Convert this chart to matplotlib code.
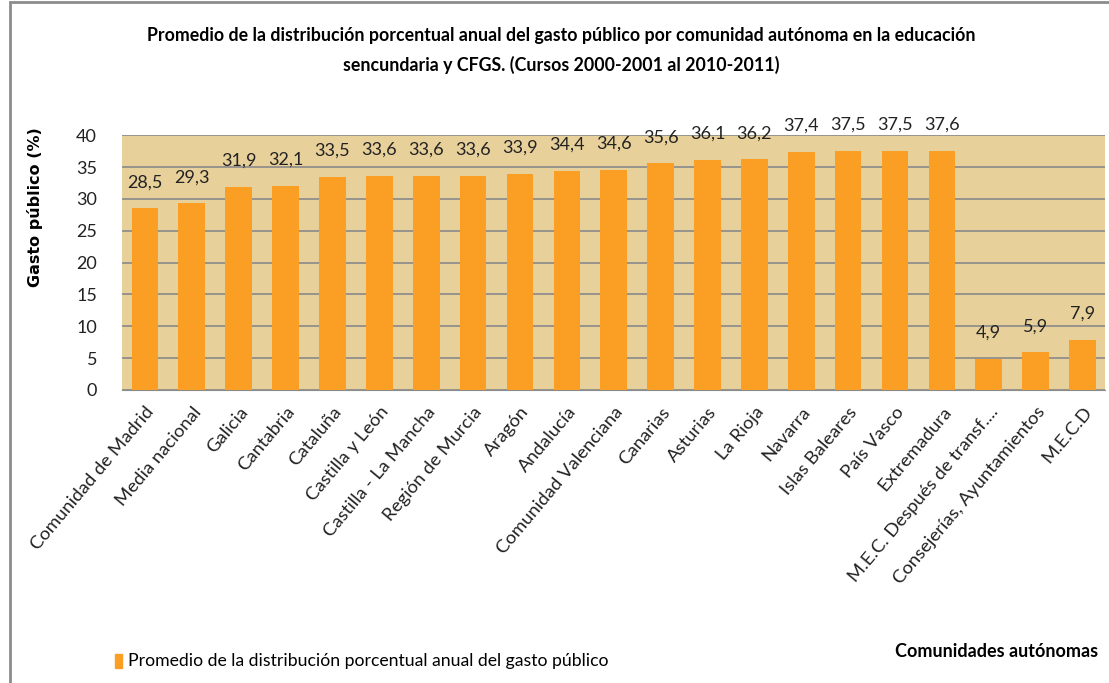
import numpy as np
import matplotlib.pyplot as plt
from matplotlib.patches import Rectangle

plt.rcParams['font.family'] = ['Lato', 'DejaVu Sans']

regiones = ['Comunidad de Madrid', 'Media nacional', 'Galicia', 'Cantabria', 'Cataluña',
            'Castilla y León', 'Castilla - La Mancha', 'Región de Murcia', 'Aragón', 'Andalucía',
            'Comunidad Valenciana', 'Canarias', 'Asturias', 'La Rioja', 'Navarra',
            'Islas Baleares', 'País Vasco', 'Extremadura', 'M.E.C. Después de transf....',
            'Consejerías, Ayuntamientos', 'M.E.C.D']
valores = [28.5, 29.3, 31.9, 32.1, 33.5, 33.6, 33.6, 33.6, 33.9, 34.4, 34.6,
           35.6, 36.1, 36.2, 37.4, 37.5, 37.5, 37.6, 4.9, 5.9, 7.9]
yticks = [0, 5, 10, 15, 20, 25, 30, 35, 40]

fig = plt.figure(figsize=(11.09, 6.83), dpi=100)
ax = fig.add_axes([0.110, 0.429, 0.886, 0.373])

# frame of the chart area
fig.patches.append(Rectangle((0.009, -0.05), 1.2, 1.047, transform=fig.transFigure,
                             fill=False, edgecolor='#8c8c8c', linewidth=2))

ax.set_facecolor('#e8d09b')
x = np.arange(len(regiones))
ax.bar(x, valores, width=0.57, color='#fa9f24', zorder=3)
for xi, v in zip(x, valores):
    ax.annotate(f'{v:.1f}'.replace('.', ','), (xi, v), xytext=(0, 13), textcoords='offset points',
                ha='center', va='bottom', fontsize=13, color='#222222')

ax.set_ylim(0, 40)
ax.set_xlim(-0.49, len(regiones) - 0.53)
ax.set_yticks(yticks)
ax.yaxis.grid(True, color='#8a8a8a', linewidth=1.2, zorder=1)
for s in ['left', 'right', 'top']:
    ax.spines[s].set_visible(False)
ax.spines['bottom'].set_color('#8a8a8a')
ax.tick_params(axis='both', length=0, labelsize=13, colors='#222222')
ax.tick_params(axis='y', pad=18)
ax.set_xticks(x)
ax.set_xticklabels(regiones, rotation=50, ha='right', rotation_mode='anchor', fontsize=13.3)
ax.tick_params(axis='x', pad=10)

fig.text(0.032, 0.697, 'Gasto público (%)', rotation=90, ha='center', va='center',
         fontsize=11.5, fontweight='bold', family='DejaVu Sans')

fig.text(0.506, 0.948, 'Promedio de la distribución porcentual anual del gasto público por comunidad autónoma en la educación',
         ha='center', va='center', fontsize=12.8, fontweight='bold')
fig.text(0.506, 0.905, 'sencundaria y CFGS. (Cursos 2000-2001 al 2010-2011)',
         ha='center', va='center', fontsize=12.8, fontweight='bold')

fig.text(0.899, 0.046, 'Comunidades autónomas', ha='center', va='center', fontsize=13, fontweight='bold')

fig.patches.append(Rectangle((0.104, 0.022), 0.006, 0.021, transform=fig.transFigure,
                             color='#fa9f24'))
fig.text(0.115, 0.032, 'Promedio de la distribución porcentual anual del gasto público',
         ha='left', va='center', fontsize=12.7)

fig.savefig('out.png', dpi=100)
